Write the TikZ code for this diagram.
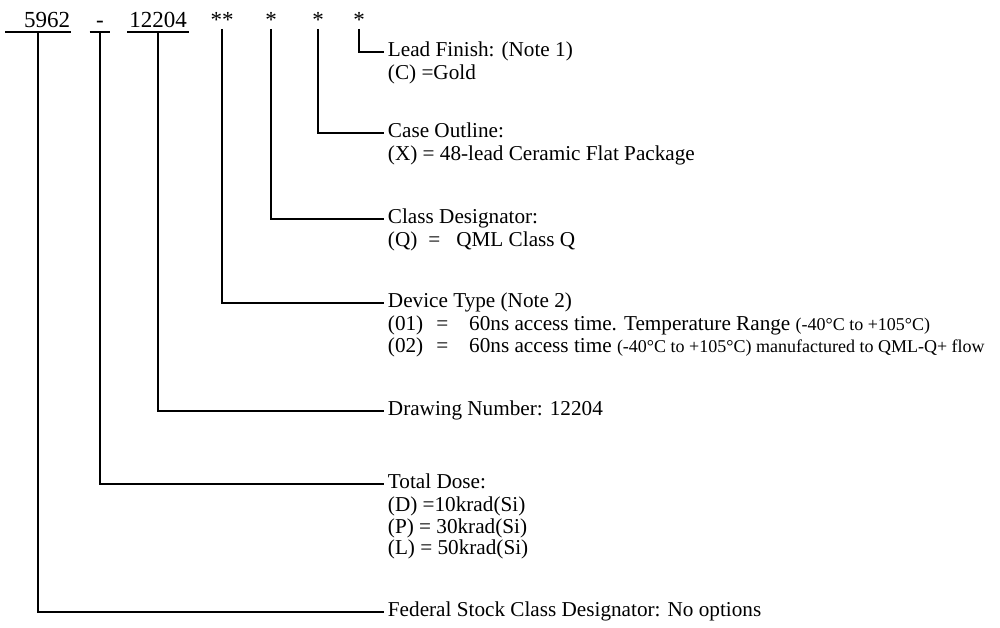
\documentclass[tikz,border=0pt]{standalone}
\usepackage{fontspec}
\setmainfont{Liberation Serif}
\usetikzlibrary{positioning}
\newcommand\smallnote[1]{{\fontsize{18}{21}\selectfont #1}}

\begin{document}
\begin{tikzpicture}[x=1pt, y=-1pt, line width=1.9pt,
    every node/.style={font=\fontsize{21.2}{21}\selectfont},
    code/.style={font=\fontsize{23}{24}\selectfont, inner xsep=0pt, inner ysep=1pt, anchor=base},
    uline/.style={inner ysep=4pt},
    title/.style={anchor=west, inner xsep=3pt, inner ysep=0pt, text height=14.7pt, text depth=6.3pt},
    opts/.style={inner xsep=3pt, inner ysep=0pt, align=left}]
  \useasboundingbox (0,0) rectangle (1000,627);
  % Part number fields.
  \node[code, uline, text width=64pt, align=right] (fsc) at (38,27) {5962};
  \node[code, uline, minimum width=19pt] (dose) at (100,27) {-};
  \node[code, uline, minimum width=60pt] (dwg) at (158,27) {12204};
  \node[code] (devt) at (222,27) {**};
  \node[code] (cls) at (271,27) {*};
  \node[code] (cse) at (318,27) {*};
  \node[code] (lf) at (359,27) {*};
  \foreach \n in {fsc,dose,dwg}
    \draw (\n.south west) -- (\n.south east);
  % Field descriptions.
  \node[title] (lf-t) at (384,52) {Lead Finish: (Note 1)};
  \node[opts, below right=0pt of lf-t.south west] {\strut(C) =Gold};
  \node[title] (cse-t) at (384,133) {Case Outline:};
  \node[opts, below right=0pt of cse-t.south west] {\strut(X) = 48-lead Ceramic Flat Package};
  \node[title] (cls-t) at (384,219) {Class Designator:};
  \node[opts, below right=0pt of cls-t.south west] {\strut(Q)\hspace{11pt}=\hspace{16pt}QML Class Q};
  \node[title] (devt-t) at (384,303) {Device Type (Note 2)};
  \node[opts, below right=0pt of devt-t.south west]
    {\strut(01)\hspace{13pt}=\hspace{21pt}60ns access time. Temperature Range \smallnote{(-40°C to +105°C)}\\
     (02)\hspace{13pt}=\hspace{21pt}60ns access time \smallnote{(-40°C to +105°C) manufactured to QML-Q+ flow}};
  \node[title] (dwg-t) at (384,411) {Drawing Number: 12204};
  \node[title] (dose-t) at (384,484) {Total Dose:};
  \node[opts, below right=0pt of dose-t.south west]
    {\strut(D) =10krad(Si)\\(P) = 30krad(Si)\\(L) = 50krad(Si)};
  \node[title] (fsc-t) at (384,612) {Federal Stock Class Designator: No options};
  % Leaders.
  \foreach \n in {lf,cse,cls,devt,dwg,dose,fsc}
    \draw (\n) |- (\n-t);
\end{tikzpicture}
\end{document}
